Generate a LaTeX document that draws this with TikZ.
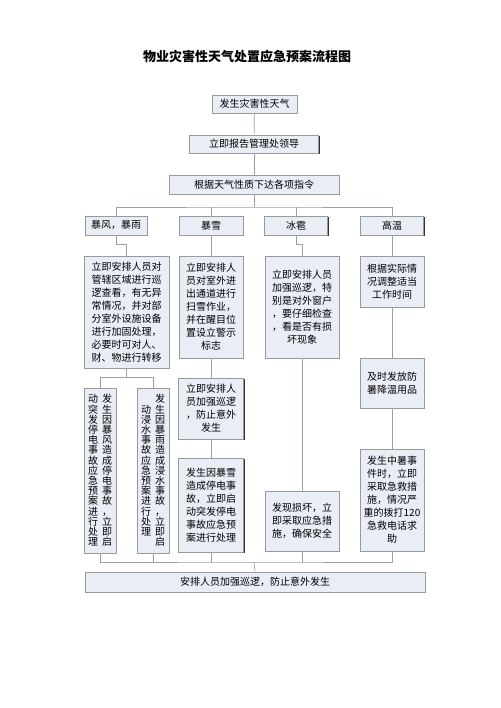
\documentclass[tikz,border=0pt]{standalone}
\usepackage{fontspec}
\usepackage{xcolor}
\usepackage{tikz}
\usetikzlibrary{shadows}
\newfontfamily\cjk{Noto Sans CJK SC}
\definecolor{cellfill}{RGB}{233,237,246}
\definecolor{linkgray}{RGB}{150,160,175}
% characters stacked top to bottom
\def\vchars#1{\ifx#1\relax\else\hbox to 10pt{\hss#1\hss}\expandafter\vchars\fi}
\newcommand\vcol[1]{$\vcenter{\baselineskip=10.2pt\lineskip=0pt\vchars#1\relax}$}

\begin{document}
\begin{tikzpicture}[x=1pt, y=-1pt,
    cell/.style={draw=gray!80, fill=cellfill, line width=0.6pt, align=center,
      inner sep=2pt, font={\cjk\fontsize{10}{13}\selectfont},
      general shadow={fill=black!80, shadow xshift=1pt, shadow yshift=-0.8pt}},
    link/.style={draw=linkgray, line width=0.7pt}]
     \useasboundingbox (0,0) rectangle (500,708);

     \node[font={\cjk\bfseries\fontsize{13}{15}\selectfont}] (title) at (247,57) {物业灾害性天气处置应急预案流程图};

     \node[cell, minimum width=85, minimum height=18] (b1) at (254.5,104) {发生灾害性天气};
     \node[cell, minimum width=129, minimum height=18] (b2) at (254,144) {立即报告管理处领导};
     \node[cell, minimum width=170, minimum height=19] (b3) at (254,184.5) {根据天气性质下达各项指令};

     \node[cell, minimum width=62, minimum height=19] (c1) at (116,225.5) {暴风，暴雨};
     \node[cell, minimum width=64, minimum height=19] (c2) at (211,225.5) {暴雪};
     \node[cell, minimum width=63, minimum height=19] (c3) at (296,225.5) {冰雹};
     \node[cell, minimum width=63, minimum height=19] (c4) at (392,225.5) {高温};

     \node[cell, minimum width=85, minimum height=112] (d1) at (126.5,312) {立即安排人员对\\管辖区域进行巡\\逻查看，有无异\\常情况，并对部\\分室外设施设备\\进行加固处理，\\必要时可对人、\\财、物进行转移};
     \node[cell, minimum width=64, minimum height=102] (d2) at (211,307) {立即安排人\\员对室外进\\出通道进行\\扫雪作业，\\并在醒目位\\置设立警示\\标志};
     \node[cell, minimum width=74, minimum height=102] (d3) at (302,307) {立即安排人员\\加强巡逻，特\\别是对外窗户\\，要仔细检查\\，看是否有损\\坏现象};
     \node[cell, minimum width=64, minimum height=51] (d4) at (392,281.5) {根据实际情\\况调整适当\\工作时间};

     \node[cell, minimum width=32, minimum height=165, inner sep=0pt] (e1) at (100,470.5) {\vcol{动突发停电事故应急预案进行处理}\hspace{4pt}\vcol{发生因暴风造成停电事故，立即启}};
     \node[cell, minimum width=32, minimum height=165, inner sep=0pt] (e2) at (153,470.5) {\vcol{动浸水事故应急预案进行处理}\hspace{4pt}\vcol{发生因暴雨造成浸水事故，立即启}};
     \node[cell, minimum width=65, minimum height=61] (e3) at (211,408.5) {立即安排人\\员加强巡逻\\，防止意外\\发生};
     \node[cell, minimum width=65, minimum height=94] (f3) at (211,505) {发生因暴雪\\造成停电事\\故，立即启\\动突发停电\\事故应急预\\案进行处理};
     \node[cell, minimum width=74, minimum height=60] (g3) at (302,521) {发现损坏，立\\即采取应急措\\施，确保安全};
     \node[cell, minimum width=64, minimum height=50] (e4) at (392,383) {及时发放防\\暑降温用品};
     \node[cell, minimum width=64, minimum height=102] (f4) at (392,500) {发生中暑事\\件时，立即\\采取急救措\\施，情况严\\重的拨打120\\急救电话求\\助};

     \node[cell, minimum width=340, minimum height=20] (last) at (255,582) {安排人员加强巡逻，防止意外发生};

     \coordinate (bus) at (254,207);
     \coordinate (join) at (254,562);

     \draw[link] (b1) -- (b2);
     \draw[link] (b2) -- (b3);
     \draw[link] (b3.south) -- (bus);
     \draw[link] (c1.north) |- (bus) -| (c4.north);
     \draw[link] (c2.north) -- (c2.north |- bus);
     \draw[link] (c3.north) -- (c3.north |- bus);

     \draw[link] (c1.south) -- ++(0,9.5) -| (d1.north);
     \draw[link] (c2) -- (d2);
     \draw[link] (c3.south) -- ++(0,9.5) -| (d3.north);
     \draw[link] (c4) -- (d4);

     \draw[link] (d1.south) -- ++(0,9.5) coordinate (split);
     \draw[link] (e1.north) |- (split) -| (e2.north);
     \draw[link] (d2) -- (e3);
     \draw[link] (e3) -- (f3);
     \draw[link] (d3) -- (g3);
     \draw[link] (d4) -- (e4);
     \draw[link] (e4) -- (f4);

     \draw[link] (e1.south) |- (join) -| (f4.south);
     \draw[link] (e2.south) -- (e2.south |- join);
     \draw[link] (f3.south) -- (f3.south |- join);
     \draw[link] (g3.south) -- (g3.south |- join);
     \draw[link] (join) -- (last.north);
\end{tikzpicture}
\end{document}
